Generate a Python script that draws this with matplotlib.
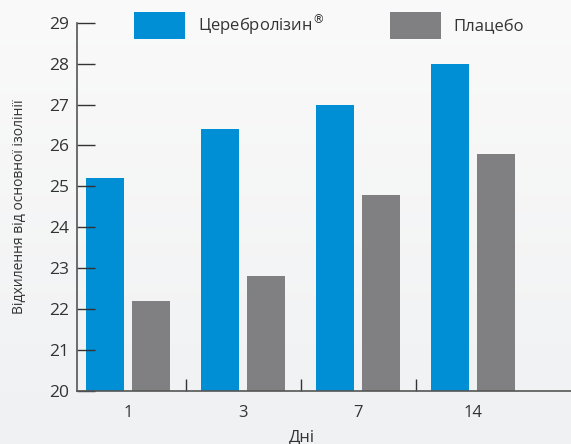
import matplotlib
matplotlib.use("Agg")
import matplotlib.pyplot as plt
import numpy as np

days = ["1", "3", "7", "14"]
cerebrolysin = [25.2, 26.4, 27.0, 28.0]
placebo = [22.2, 22.8, 24.8, 25.8]
series_names = [r"Церебролізин$^{\circledR}$", "Плацебо"]
y_ticks = [20, 21, 22, 23, 24, 25, 26, 27, 28, 29]
y_label = "Відхилення від основної ізолінії"
x_label = "Дні"

plt.rcParams['font.family'] = ['Open Sans', 'DejaVu Sans']
plt.rcParams['mathtext.fontset'] = 'custom'
plt.rcParams['mathtext.rm'] = 'DejaVu Sans'

W, H = 571, 444
fig = plt.figure(figsize=(W / 100, H / 100), dpi=100)

# background gradient
bg = fig.add_axes([0, 0, 1, 1], zorder=-10)
grad = np.linspace(0, 1, 256).reshape(-1, 1)
top = np.array([0.98, 0.98, 0.98])
bot = np.array([0.94, 0.945, 0.95])
img = top[None, None, :] * (1 - grad[:, :, None]) + bot[None, None, :] * grad[:, :, None]
bg.imshow(img, aspect='auto', extent=[0, 1, 0, 1])
bg.axis('off')

ax = fig.add_axes([77 / W, 1 - 391 / H, 1 - 77 / W, (391 - 22.7) / H])
ax.patch.set_alpha(0)

x = np.arange(len(days))
w = 0.33
blue = "#008fd5"
gray = "#808083"
b1 = ax.bar(x - 0.2, [v - 20 for v in cerebrolysin], w, bottom=20, color=blue, label=series_names[0])
b2 = ax.bar(x + 0.2, [v - 20 for v in placebo], w, bottom=20, color=gray, label=series_names[1])

ax.set_xlim(-0.443, 3.85)
ax.set_ylim(20, 29)
ax.set_yticks(y_ticks)
ax.set_yticklabels([str(t) for t in y_ticks], fontsize=12.5, color="#333333")
ax.set_xticks(x)
ax.set_xticklabels(days, fontsize=12, color="#333333")
ax.tick_params(axis='x', length=0, pad=10)
ax.set_xticks([0.5, 1.5, 2.5], minor=True)
ax.tick_params(axis='x', which='minor', direction='in', length=9, width=1, color="#333333")
ax.tick_params(axis='y', direction='in', length=13, width=1, color="#333333", pad=6)

for s in ['top', 'right']:
    ax.spines[s].set_visible(False)
ax.spines['left'].set_color("#555555")
ax.spines['bottom'].set_color("#555555")
ax.spines['left'].set_linewidth(1.2)
ax.spines['bottom'].set_linewidth(1.2)

fig.text(302 / W, 1 - 437 / H, x_label, ha='center', va='center', fontsize=12, color="#333333")
fig.text(20 / W, 1 - 207 / H, y_label, ha='center', va='center', rotation=90, fontsize=10, color="#333333")

leg = ax.legend(handles=[b1, b2], loc='upper left', bbox_to_anchor=(134 / W, 1 - 12 / H),
                bbox_transform=fig.transFigure, ncol=2, frameon=False, fontsize=12,
                handlelength=3.06, handleheight=2.12, handletextpad=0.75, columnspacing=4.0,
                borderaxespad=0, borderpad=0, labelcolor="#333333")

fig.savefig("out.png", dpi=100)
